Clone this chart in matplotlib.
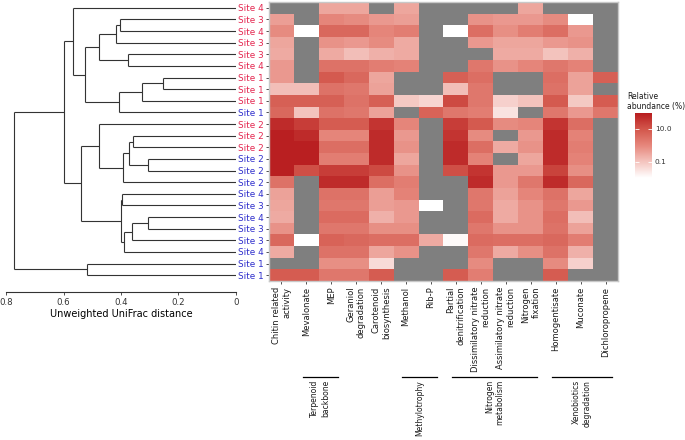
import numpy as np
import matplotlib
matplotlib.use("Agg")
import matplotlib.pyplot as plt
from matplotlib.colors import LinearSegmentedColormap, LogNorm
from matplotlib.transforms import blended_transform_factory

N = np.nan

# rows of the heatmap, top to bottom (same order as dendrogram leaves)
site_labels = ["Site 4", "Site 3", "Site 4", "Site 3", "Site 3", "Site 4",
               "Site 1", "Site 1", "Site 1", "Site 1", "Site 2", "Site 2",
               "Site 2", "Site 2", "Site 2", "Site 2", "Site 4", "Site 3",
               "Site 4", "Site 3", "Site 3", "Site 4", "Site 1", "Site 1"]
site_group = ["a"] * 9 + ["b"] + ["a"] * 3 + ["b"] * 11

pathways = ["Chitin related\nactivity", "Mevalonate", "MEP",
            "Geraniol\ndegradation", "Carotenoid\nbiosynthesis", "Methanol",
            "Rib-P", "Partial\ndenitrification",
            "Dissimilatory nitrate\nreduction",
            "Assimilatory nitrate\nreduction", "Nitrogen\nfixation",
            "Homogentisate", "Muconate", "Dichloropropene"]

# relative abundance (%), NaN = not detected
abundance = np.array([
    [N, N, 0.3, 0.3, N, 0.3, N, N, N, N, 0.3, N, N, N],
    [0.4, N, 1.0, 0.8, 0.5, 0.4, N, N, 0.6, 0.5, 0.5, 0.8, 0.01, N],
    [0.8, 0.01, 4, 4, 1.0, 1.5, N, 0.01, 3, 0.7, 1.5, 3, 0.5, N],
    [0.3, N, 0.6, 0.5, 0.8, 0.25, N, N, 0.5, 0.3, 0.3, 0.5, 0.6, N],
    [0.25, N, 0.25, 0.12, 0.2, 0.25, N, N, N, 0.25, 0.25, 0.1, 0.2, N],
    [0.5, N, 2.5, 2.5, 1.5, 1.2, N, N, 2, 0.6, 1.0, 2, 1.2, N],
    [0.5, N, 8, 4, 0.3, N, N, 6, 3, N, N, 3, 0.35, 6],
    [0.12, 0.12, 2.5, 2, 0.35, N, N, 0.12, 2, N, N, 2.5, 0.35, N],
    [6, 6, 6, 2.5, 6, 0.08, 0.05, 15, 2, 0.06, 0.1, 8, 0.08, 7],
    [4, 0.1, 2.5, 2, 0.35, N, 5, 2, 1.5, 0.03, N, 2, 0.5, 2],
    [50, 25, 7, 7, 35, 1.0, N, 25, 8, 0.8, 1.0, 35, 3, N],
    [80, 50, 1.0, 1.0, 50, 0.5, N, 35, 0.8, N, 0.5, 50, 1.2, N],
    [80, 80, 3, 3, 50, 0.6, N, 50, 3, 0.25, 0.6, 50, 1.5, N],
    [80, 80, 1.5, 1.5, 50, 0.3, N, 50, 1.2, N, 0.3, 50, 1.2, N],
    [80, 12, 25, 25, 15, 0.6, N, 12, 35, 0.5, 0.5, 20, 0.7, N],
    [2.5, N, 50, 50, 3, 1.5, N, N, 50, 0.5, 2, 50, 4, N],
    [0.35, N, 2.5, 2.5, 0.4, 1.2, N, N, 2, 0.35, 1.0, 2.5, 0.3, N],
    [0.3, N, 2, 2, 0.4, 0.5, 0.01, N, 2, 0.25, 0.6, 2, 0.5, N],
    [0.25, N, 3.5, 3.5, 0.2, 0.5, N, N, 3.5, 0.25, 0.6, 3, 0.12, N],
    [0.6, N, 2, 2, 0.7, 0.7, N, N, 2, 0.6, 0.6, 2.5, 0.35, N],
    [4, 0.01, 5, 4, 3, 3, 0.25, 0.012, 3.5, 3, 3, 4, 1.5, N],
    [0.25, N, 2.5, 2.5, 0.3, 0.6, N, N, 2, 0.25, 0.7, 2.5, 0.2, N],
    [N, N, 0.7, 0.7, 0.04, N, N, N, 0.8, N, N, 0.8, 0.06, N],
    [7, 7, 2, 2, 7, N, N, 7, 1.5, N, N, 7, N, N],
])

# pathway groups: (label, first column, last column)
groups = [("Terpenoid\nbackbone", 1, 2),
          ("Methylotrophy", 5, 6),
          ("Nitrogen\nmetabolism", 7, 10),
          ("Xenobiotics\ndegradation", 11, 13)]

# hierarchical clustering merges (leaf ids 0..23, new nodes from 24)
merges = [
    (1, 2, 0.403), (24, 3, 0.418), (4, 5, 0.376), (25, 26, 0.477),
    (6, 7, 0.254), (28, 8, 0.327), (29, 9, 0.407), (27, 30, 0.525),
    (0, 31, 0.567),
    (11, 12, 0.357), (13, 14, 0.307), (33, 34, 0.371), (35, 15, 0.393),
    (10, 36, 0.477),
    (16, 17, 0.398), (18, 19, 0.307), (39, 20, 0.363), (40, 21, 0.390),
    (38, 41, 0.401), (37, 42, 0.539), (32, 43, 0.598),
    (22, 23, 0.518), (44, 45, 0.772),
]

group_colors = {"a": "#E4264F", "b": "#2E2ECC"}
W, H = 685, 440
fig = plt.figure(figsize=(W / 100, H / 100), dpi=100)

hm_rect = [269 / W, 1 - 281 / H, 349 / W, 279 / H]
ax = fig.add_axes(hm_rect)
cmap = LinearSegmentedColormap.from_list(
    "abund", ["#FFFFFF", "#F4C4BE", "#E6877C", "#D3574C", "#B81D1F"])
cmap.set_bad("#7F7F7F")
norm = LogNorm(vmin=0.01, vmax=90)
im = ax.imshow(np.ma.masked_invalid(abundance), cmap=cmap, norm=norm,
               aspect="auto", interpolation="nearest")
nrow, ncol = abundance.shape
ax.set_xlim(-0.5, ncol - 0.5)
ax.set_ylim(nrow - 0.5, -0.5)
ax.set_yticks(range(nrow))
ax.set_yticklabels(site_labels, fontsize=6.4)
for lab, g in zip(ax.get_yticklabels(), site_group):
    lab.set_color(group_colors[g])
ax.set_xticks(range(ncol))
ax.set_xticklabels(pathways, fontsize=6.0, rotation=90, ha="center",
                   va="top", multialignment="right", color="#1A1A1A")
ax.tick_params(length=2.5, width=0.6, color="#333333", pad=1.5)
for s in ax.spines.values():
    s.set_color("#C8C8C8")
    s.set_linewidth(1.0)

# group brackets under the column labels
tr = blended_transform_factory(ax.transData, fig.transFigure)
for label, c0, c1 in groups:
    ax.plot([c0 - 0.15, c1 + 0.25], [1 - 377 / H] * 2, color="black",
            lw=0.9, transform=tr, clip_on=False)
    ax.text((c0 + c1) / 2 + 0.05, 1 - 380 / H, label, transform=tr,
            rotation=90, ha="center", va="top", multialignment="right",
            fontsize=5.5, color="#1A1A1A")

# dendrogram
dax = fig.add_axes([6 / W, hm_rect[1], 230 / W, hm_rect[3]])
pos = {i: float(i) for i in range(nrow)}
hgt = {i: 0.0 for i in range(nrow)}
for k, (a, b, h) in enumerate(merges):
    node = nrow + k
    for child in (a, b):
        dax.plot([hgt[child], h], [pos[child], pos[child]], color="#333333",
                 lw=0.8, solid_capstyle="butt")
    dax.plot([h, h], [pos[a], pos[b]], color="#333333", lw=0.8,
             solid_capstyle="butt")
    pos[node] = (pos[a] + pos[b]) / 2
    hgt[node] = h
dax.set_xlim(0.8, 0)
dax.set_ylim(nrow - 0.5, -0.5)
dax.set_yticks([])
for s in ("left", "right", "top"):
    dax.spines[s].set_visible(False)
dax.spines["bottom"].set_position(("outward", 8))
dax.spines["bottom"].set_color("#333333")
dax.spines["bottom"].set_linewidth(0.8)
dax.set_xticks([0.8, 0.6, 0.4, 0.2, 0])
dax.set_xticklabels(["0.8", "0.6", "0.4", "0.2", "0"])
dax.tick_params(axis="x", labelsize=6.2, length=2.5, width=0.6,
                color="#333333", labelcolor="#333333", pad=1.5)
dax.set_xlabel("Unweighted UniFrac distance", fontsize=7, labelpad=2)
dax.patch.set_visible(False)

# colour bar legend
cax = fig.add_axes([635 / W, 1 - 178 / H, 17 / W, 65 / H])
cb = fig.colorbar(im, cax=cax)
cb.outline.set_visible(False)
cb.set_ticks([0.1, 10])
cb.set_ticklabels(["0.1", "10.0"])
cb.minorticks_off()
cax.tick_params(which="both", length=3, width=0.6, color="white",
                direction="in", labelsize=5.3, pad=2, labelcolor="#333333",
                left=True, right=True)
fig.text(627 / W, 1 - 92 / H, "Relative\nabundance (%)", fontsize=5.5,
         va="top", ha="left", color="#1A1A1A")

fig.savefig("out.png", dpi=100)
